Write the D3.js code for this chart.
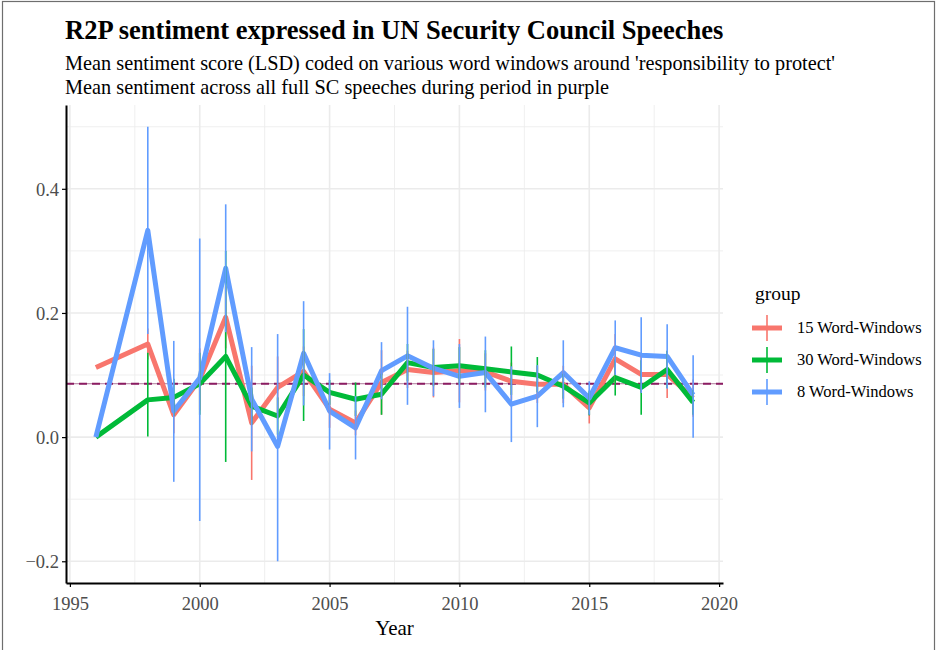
<!DOCTYPE html>
<html>
<head>
<meta charset="utf-8">
<script src="https://cdn.jsdelivr.net/npm/d3@7"></script>
<style>
  body { margin: 0; background: white; }
  text { font-family: "Liberation Serif", "Times New Roman", serif; }
</style>
</head>
<body>
<div class="chart"></div>
<script>
var years = [1996, 1998, 1999, 2000, 2001, 2002, 2003, 2004, 2005, 2006, 2007, 2008,
             2009, 2010, 2011, 2012, 2013, 2014, 2015, 2016, 2017, 2018, 2019];

var groups = ["15 Word-Windows", "30 Word-Windows", "8 Word-Windows"];
var colors = ["#F8766D", "#00BA38", "#619CFF"];

// mean sentiment per year
var mean15 = [0.112, 0.150, 0.036, 0.093, 0.193, 0.023, 0.080, 0.106, 0.045, 0.023, 0.088, 0.109,
              0.104, 0.107, 0.105, 0.090, 0.085, 0.085, 0.047, 0.126, 0.101, 0.101, 0.063];
var mean30 = [0.000, 0.060, 0.064, 0.086, 0.130, 0.050, 0.034, 0.100, 0.072, 0.061, 0.069, 0.120,
              0.112, 0.115, 0.110, 0.105, 0.100, 0.082, 0.055, 0.096, 0.080, 0.109, 0.056];
var mean8  = [0.000, 0.333, 0.042, 0.095, 0.272, 0.061, -0.015, 0.135, 0.042, 0.015, 0.107, 0.131,
              0.111, 0.098, 0.104, 0.053, 0.066, 0.104, 0.063, 0.144, 0.132, 0.130, 0.068];

// error bar ends
var lo15 = [0.112, 0.125, 0.006, 0.043, 0.143, -0.069, 0.030, 0.066, 0.015, 0.003, 0.036, 0.079,
            0.064, 0.056, 0.075, 0.060, 0.055, 0.055, 0.022, 0.086, 0.071, 0.063, 0.033];
var hi15 = [0.112, 0.175, 0.066, 0.143, 0.243, 0.115, 0.130, 0.146, 0.075, 0.043, 0.140, 0.139,
            0.144, 0.158, 0.135, 0.120, 0.115, 0.115, 0.072, 0.166, 0.131, 0.139, 0.093];
var lo30 = [0.000, 0.001, 0.034, 0.036, -0.040, 0.020, 0.004, 0.026, 0.052, 0.034, 0.036, 0.090,
            0.082, 0.085, 0.080, 0.068, 0.072, 0.062, 0.035, 0.067, 0.036, 0.079, 0.036];
var hi30 = [0.000, 0.136, 0.094, 0.136, 0.300, 0.080, 0.064, 0.174, 0.092, 0.088, 0.102, 0.150,
            0.142, 0.145, 0.140, 0.146, 0.129, 0.102, 0.075, 0.125, 0.124, 0.139, 0.076];
var lo8  = [0.000, 0.166, -0.072, -0.135, 0.169, -0.023, -0.200, 0.051, -0.020, -0.036, 0.061, 0.052,
            0.066, 0.047, 0.040, -0.008, 0.016, 0.048, 0.036, 0.100, 0.071, 0.078, -0.001];
var hi8  = [0.000, 0.500, 0.155, 0.320, 0.375, 0.145, 0.166, 0.219, 0.103, 0.066, 0.153, 0.210,
            0.156, 0.150, 0.162, 0.114, 0.116, 0.156, 0.090, 0.188, 0.193, 0.182, 0.132];

// mean sentiment of all full SC speeches
var overallMean = 0.086;

var xTicks = [1995, 2000, 2005, 2010, 2015, 2020];
var xMinor = [1997.5, 2002.5, 2007.5, 2012.5, 2017.5];
var yTicks = [-0.2, 0.0, 0.2, 0.4];
var yMinor = [-0.1, 0.1, 0.3, 0.5];

var means = [mean15, mean30, mean8];
var los = [lo15, lo30, lo8];
var his = [hi15, hi30, hi8];

var width = 938, height = 650;
var margin = {left: 66, right: 215, top: 105, bottom: 67};
var plotW = width - margin.left - margin.right;
var plotH = height - margin.top - margin.bottom;

var svg = d3.select(".chart").append("svg").attr("width", width).attr("height", height);

// outer frame
svg.append("rect").attr("x", 2.5).attr("y", 1.5).attr("width", 932).attr("height", 660)
   .attr("fill", "none").attr("stroke", "#6e6e6e").attr("stroke-width", 1.2);

var x = d3.scaleLinear().domain([1994.85, 2020.15]).range([0, plotW]);
var y = d3.scaleLinear().domain([-0.235, 0.535]).range([plotH, 0]);

var g = svg.append("g").attr("transform", "translate(" + margin.left + "," + margin.top + ")");

// grid lines
g.selectAll(".xminor").data(xMinor).enter().append("line")
  .attr("x1", d => x(d)).attr("x2", d => x(d)).attr("y1", 0).attr("y2", plotH)
  .attr("stroke", "#ebebeb").attr("stroke-width", 0.8);
g.selectAll(".yminor").data(yMinor).enter().append("line")
  .attr("x1", 0).attr("x2", plotW).attr("y1", d => y(d)).attr("y2", d => y(d))
  .attr("stroke", "#ebebeb").attr("stroke-width", 0.8);
g.selectAll(".xmajor").data(xTicks).enter().append("line")
  .attr("x1", d => x(d)).attr("x2", d => x(d)).attr("y1", 0).attr("y2", plotH)
  .attr("stroke", "#ebebeb").attr("stroke-width", 1.6);
g.selectAll(".ymajor").data(yTicks).enter().append("line")
  .attr("x1", 0).attr("x2", plotW).attr("y1", d => y(d)).attr("y2", d => y(d))
  .attr("stroke", "#ebebeb").attr("stroke-width", 1.6);

// purple reference line
g.append("line").attr("x1", 0).attr("x2", plotW)
  .attr("y1", y(overallMean)).attr("y2", y(overallMean))
  .attr("stroke", "#b07a9c").attr("stroke-width", 1);
g.append("line").attr("x1", 0).attr("x2", plotW)
  .attr("y1", y(overallMean)).attr("y2", y(overallMean))
  .attr("stroke", "#8B1C62").attr("stroke-width", 2.2).attr("stroke-dasharray", "8,5");

// lines
var line = d3.line()
  .x((d, i) => x(years[i]))
  .y(d => y(d));

means.forEach(function(m, k) {
  g.append("path")
    .attr("fill", "none")
    .attr("stroke", colors[k])
    .attr("stroke-width", 5)
    .attr("stroke-linejoin", "round")
    .attr("d", line(m));
});

// error bars on top
means.forEach(function(m, k) {
  g.selectAll(".err" + k).data(years).enter().append("line")
    .attr("x1", d => x(d)).attr("x2", d => x(d))
    .attr("y1", (d, i) => y(los[k][i])).attr("y2", (d, i) => y(his[k][i]))
    .attr("stroke", colors[k]).attr("stroke-width", 1.6);
});

// axes
var xAxis = d3.axisBottom(x).tickValues(xTicks).tickFormat(d3.format("d")).tickSize(4).tickSizeOuter(0);
var yAxis = d3.axisLeft(y).tickValues(yTicks).tickFormat(d3.format(".1f")).tickSize(4).tickSizeOuter(0);

var gx = g.append("g").attr("transform", "translate(0," + plotH + ")").call(xAxis);
var gy = g.append("g").call(yAxis);

[gx, gy].forEach(function(a) {
  a.select(".domain").attr("stroke", "black").attr("stroke-width", 2);
  a.selectAll(".tick line").attr("stroke", "black").attr("stroke-width", 1.2);
  a.selectAll(".tick text").attr("fill", "#4d4d4d")
    .style("font-family", "'Liberation Serif', serif").style("font-size", "18.5px");
});
gx.selectAll(".tick text").attr("dy", "1.1em");
gy.selectAll(".tick text").attr("dy", "0.35em").attr("x", -7);

// axis title
svg.append("text")
  .attr("x", margin.left + plotW / 2).attr("y", 635)
  .attr("text-anchor", "middle").style("font-size", "21px").text("Year");

// titles
svg.append("text").attr("x", 65).attr("y", 39)
  .style("font-size", "26.5px").style("font-weight", "bold")
  .text("R2P sentiment expressed in UN Security Council Speeches");
svg.append("text").attr("x", 65).attr("y", 70).style("font-size", "20.3px")
  .text("Mean sentiment score (LSD) coded on various word windows around 'responsibility to protect'");
svg.append("text").attr("x", 65).attr("y", 94).style("font-size", "20.3px")
  .text("Mean sentiment across all full SC speeches during period in purple");

// legend
var legend = svg.append("g").attr("transform", "translate(752,0)");
legend.append("text").attr("x", 3).attr("y", 300).style("font-size", "19.5px").text("group");
groups.forEach(function(name, k) {
  var cy = 328 + k * 32;
  legend.append("line").attr("x1", 0).attr("x2", 30).attr("y1", cy).attr("y2", cy)
    .attr("stroke", colors[k]).attr("stroke-width", 5);
  legend.append("line").attr("x1", 15).attr("x2", 15).attr("y1", cy - 13).attr("y2", cy + 13)
    .attr("stroke", colors[k]).attr("stroke-width", 1.6);
  legend.append("text").attr("x", 45).attr("y", cy + 5).style("font-size", "16.5px").text(name);
});
</script>
</body>
</html>
